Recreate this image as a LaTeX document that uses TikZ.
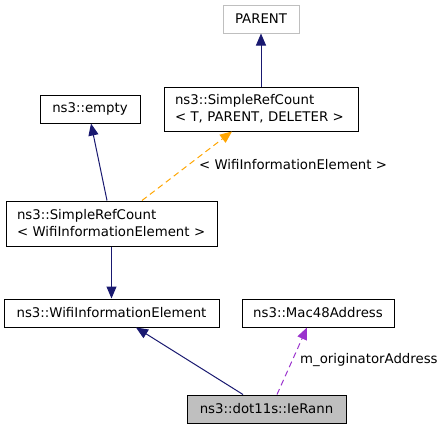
\documentclass[tikz,border=0pt]{standalone}
\usepackage{fontspec}
\setmainfont{DejaVu Sans}
\usetikzlibrary{arrows.meta,calc}
\definecolor{navyedge}{HTML}{191970}
\definecolor{orangeedge}{HTML}{FFA500}
\definecolor{purpleedge}{HTML}{9A32CD}
\definecolor{graybox}{HTML}{BFBFBF}
\begin{document}
\begin{tikzpicture}[x=1pt,y=-1pt,
  every node/.style={font=\fontsize{13.3}{17}\selectfont, inner sep=0pt},
  box/.style={draw=black, line width=1pt, fill=white, rectangle},
  twoline/.style={box, align=left, text width=#1, inner xsep=11pt},
  inh/.style={draw=navyedge, line width=1pt, -{Triangle[length=12pt,width=10pt]}},
  tmpl/.style={draw=orangeedge, line width=1pt, dashed, dash pattern=on 6pt off 4pt, -{Triangle[length=12pt,width=10pt]}},
  usage/.style={draw=purpleedge, line width=1pt, dashed, dash pattern=on 6pt off 4pt, -{Triangle[length=12pt,width=10pt]}},
  lbl/.style={anchor=west}]
\useasboundingbox (0,0) rectangle (444,429);
\node[box, draw=graybox, minimum width=76pt, minimum height=28pt] (parent) at (261,19) {PARENT};
\node[twoline=172pt, minimum height=44pt] (srcT) at (261,109) {ns3::SimpleRefCount\\< T, PARENT, DELETER >};
\node[box, minimum width=100pt, minimum height=28pt] (empty) at (90,109) {ns3::empty};
\node[twoline=189pt, minimum height=45pt] (srcW) at (111.5,223.5) {ns3::SimpleRefCount\\< WifiInformationElement >};
\node[box, minimum width=215pt, minimum height=28pt] (wie) at (111.5,313) {ns3::WifiInformationElement};
\node[box, minimum width=152pt, minimum height=28pt] (mac) at (318,313) {ns3::Mac48Address};
\node[box, fill=graybox, minimum width=159pt, minimum height=28pt] (rann) at (266.5,409) {ns3::dot11s::IeRann};
\draw[inh] (srcT.north) -- (parent.south);
\draw[inh] ([xshift=-4.5pt]srcW.north) -- ([xshift=1pt]empty.south);
\draw[tmpl] ([xshift=30.5pt]srcW.north) -- ([xshift=-29pt]srcT.south);
\node[lbl] (tlabel) at (199,165) {< WifiInformationElement >};
\draw[inh] (srcW.south) -- (wie.north);
\draw[inh] ([xshift=-23.5pt]rann.north) -- ([xshift=24.5pt]wie.south);
\draw[usage] ([xshift=10.5pt]rann.north) -- ([xshift=-11pt]mac.south);
\node[lbl] (ulabel) at (300,360) {m\_originatorAddress};
\end{tikzpicture}
\end{document}
